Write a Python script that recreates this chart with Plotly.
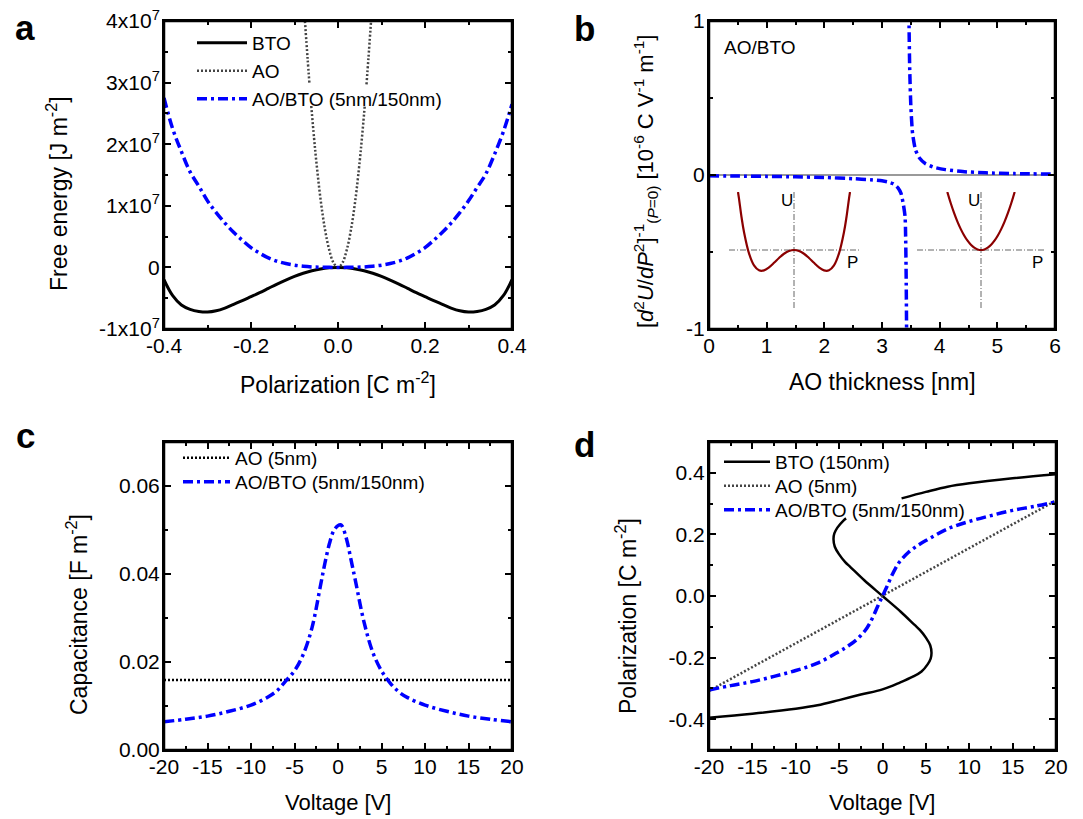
import plotly.graph_objects as go

# ---------------- data ----------------
# (a) free energy vs polarization, energy in units of 1e7 J m^-2
pol_a = [-0.40, -0.38, -0.36, -0.34, -0.32, -0.30, -0.28, -0.26, -0.24, -0.22, -0.20,
         -0.18, -0.16, -0.14, -0.12, -0.10, -0.08, -0.06, -0.04, -0.02, 0.00,
         0.02, 0.04, 0.06, 0.08, 0.10, 0.12, 0.14, 0.16, 0.18, 0.20,
         0.22, 0.24, 0.26, 0.28, 0.30, 0.32, 0.34, 0.36, 0.38, 0.40]
bto_energy = [-0.20, -0.46, -0.61, -0.68, -0.715, -0.725, -0.705, -0.66, -0.60, -0.54, -0.475,
              -0.41, -0.34, -0.27, -0.205, -0.145, -0.095, -0.055, -0.025, -0.007, 0.0,
              -0.007, -0.025, -0.055, -0.095, -0.145, -0.205, -0.27, -0.34, -0.41, -0.475,
              -0.54, -0.60, -0.66, -0.705, -0.725, -0.715, -0.68, -0.61, -0.46, -0.20]
aobto_energy = [2.75, 2.25, 1.88, 1.55, 1.32, 1.08, 0.89, 0.72, 0.57, 0.44, 0.32,
                0.23, 0.155, 0.10, 0.062, 0.036, 0.019, 0.008, 0.003, 0.0005, 0.0,
                0.0005, 0.003, 0.008, 0.019, 0.036, 0.062, 0.10, 0.155, 0.23, 0.32,
                0.44, 0.57, 0.72, 0.89, 1.08, 1.30, 1.52, 1.84, 2.20, 2.65]
# AO parabola (gaps where it passes behind the legend text)
pol_ao = [-0.076, -0.070, -0.0655, None, -0.0615, -0.055, -0.05, -0.04, -0.03, -0.02, -0.01, 0.0,
          0.01, 0.02, 0.03, 0.04, 0.05, 0.055, 0.0615, None, 0.0655, 0.070, 0.076]
ao_energy = [4.0, 3.4, 2.97, None, 2.62, 2.1, 1.73, 1.1, 0.62, 0.28, 0.07, 0.0,
             0.07, 0.28, 0.62, 1.1, 1.73, 2.1, 2.62, None, 2.97, 3.4, 4.0]
tick_a_y = [-1, 0, 1, 2, 3, 4]
tick_a_y_text = ["-1x10<sup>7</sup>", "0", "1x10<sup>7</sup>", "2x10<sup>7</sup>",
                 "3x10<sup>7</sup>", "4x10<sup>7</sup>"]
tick_a_x = [-0.4, -0.2, 0.0, 0.2, 0.4]
tick_a_x_text = ["-0.4", "-0.2", "0.0", "0.2", "0.4"]

# (b) inverse curvature vs AO thickness
thick_b = [0.0, 0.5, 1.0, 1.5, 2.0, 2.5, 2.8, 3.0, 3.1, 3.2, 3.28, 3.33, 3.37, 3.40, 3.41, 3.42, 3.43, None,
           3.465, 3.47, 3.48, 3.50, 3.53, 3.58, 3.65, 3.75, 3.9, 4.1, 4.4, 4.8, 5.3, 6.0]
curv_b = [-0.005, -0.007, -0.009, -0.012, -0.016, -0.024, -0.031, -0.038, -0.045, -0.058, -0.085, -0.12,
          -0.19, -0.27, -0.40, -0.70, -1.2, None,
          1.2, 0.95, 0.70, 0.45, 0.27, 0.165, 0.11, 0.075, 0.05, 0.035, 0.022, 0.014, 0.009, 0.006]
tick_b_x = [0, 1, 2, 3, 4, 5, 6]
tick_b_y = [-1, 0, 1]
# insets of (b): sketch energy landscapes
inset_p_double = [-1.12, -1.1, -1.05, -1.0, -0.9, -0.8, -0.7, -0.6, -0.5, -0.4, -0.3, -0.2, -0.1, 0.0,
                  0.1, 0.2, 0.3, 0.4, 0.5, 0.6, 0.7, 0.8, 0.9, 1.0, 1.05, 1.1, 1.12]
inset_u_double = [1.0, 0.886, 0.569, 0.31, -0.058, -0.265, -0.35, -0.352, -0.299, -0.221, -0.137, -0.065,
                  -0.017, 0.0, -0.017, -0.065, -0.137, -0.221, -0.299, -0.352, -0.35, -0.265, -0.058,
                  0.31, 0.569, 0.886, 1.0]
inset_p_single = [-1.0, -0.9, -0.8, -0.7, -0.6, -0.5, -0.4, -0.3, -0.2, -0.1, 0.0,
                  0.1, 0.2, 0.3, 0.4, 0.5, 0.6, 0.7, 0.8, 0.9, 1.0]
inset_u_single = [1.0, 0.81, 0.64, 0.49, 0.36, 0.25, 0.16, 0.09, 0.04, 0.01, 0.0,
                  0.01, 0.04, 0.09, 0.16, 0.25, 0.36, 0.49, 0.64, 0.81, 1.0]

# (c) capacitance vs voltage
volt_c = [-20, -17.5, -15, -12.5, -10, -8, -7, -6, -5, -4, -3, -2, -1.5, -1, -0.5, 0, 0.3, 0.5,
          1, 1.5, 2, 3, 4, 5, 6, 7, 8, 10, 12.5, 15, 17.5, 20]
cap_aobto = [0.0064, 0.0070, 0.0077, 0.0088, 0.0102, 0.0121, 0.0135, 0.0157, 0.0180, 0.0217, 0.0277,
             0.0375, 0.0425, 0.0468, 0.0498, 0.0510, 0.0512, 0.0508, 0.0478, 0.0432, 0.0385, 0.0290,
             0.0222, 0.0180, 0.0152, 0.0132, 0.0119, 0.0102, 0.0088, 0.0077, 0.0070, 0.0064]
volt_c_ao = [-20, 20]
cap_ao = [0.0159, 0.0159]
tick_c_x = [-20, -15, -10, -5, 0, 5, 10, 15, 20]
tick_c_y = [0.0, 0.02, 0.04, 0.06]
tick_c_y_text = ["0.00", "0.02", "0.04", "0.06"]

# (d) polarization vs voltage
volt_d_bto = [-20, -15, -10, -7.5, -5, -2.5, 0, 2, 3.5, 4.5, 5.2, 5.55, 5.65, 5.5, 5.0, 4.3, 3.7, 2.1,
              0, -2.1, -3.7, -4.3, -5.0, -5.5, -5.65, -5.55, -5.2, -4.5, -4.2, None,
              2.2, 5, 7.5, 10, 15, 20]
pol_d_bto = [-0.395, -0.382, -0.366, -0.355, -0.338, -0.32, -0.303, -0.281, -0.262, -0.245, -0.222,
             -0.203, -0.185, -0.16, -0.135, -0.11, -0.094, -0.051,
             0.0, 0.051, 0.094, 0.11, 0.135, 0.16, 0.185, 0.203, 0.222, 0.245, 0.252, None,
             0.317, 0.338, 0.355, 0.366, 0.382, 0.395]
volt_d_ao = [-20, 20]
pol_d_ao = [-0.308, 0.310]
volt_d = [-20, -17.5, -15, -12.5, -10, -7.5, -5, -4, -3, -2, -1.5, -1, -0.5, 0,
          0.5, 1, 1.5, 2, 3, 4, 5, 7.5, 10, 12.5, 15, 17.5, 20]
pol_d_aobto = [-0.305, -0.291, -0.278, -0.261, -0.242, -0.218, -0.180, -0.163, -0.142, -0.112, -0.090,
               -0.062, -0.030, 0.0, 0.030, 0.062, 0.090, 0.112, 0.142, 0.163, 0.180, 0.218, 0.242,
               0.261, 0.278, 0.291, 0.306]
tick_d_y = [-0.4, -0.2, 0.0, 0.2, 0.4]
tick_d_y_text = ["-0.4", "-0.2", "0.0", "0.2", "0.4"]

# ---------------- styling ----------------
# The page body has an 8 px margin, so the figure is drawn 8 px in from the
# window corner; positions below are given in window pixels and shifted.
OFF = 8
W, H = 1083 - OFF, 819 - OFF
FONT = "Liberation Sans, Arial, sans-serif"
BLUE = "#0000ff"
GRAY = "#444444"
DARKRED = "#8b0000"
DASHDOT = "10px,4px,3px,4px"
DOT = "2px,2px"


def fx(px):
    return (px - OFF) / W


def fy(py):
    return 1 - (py - OFF) / H


# plot areas in window pixels: (left, right, top, bottom)
PA = (164, 512, 21, 329)
PB = (709, 1055, 21, 329)
PC = (164, 512, 442, 750)
PD = (709, 1056, 442, 750)

fig = go.Figure()


def add(x, y, xa, ya, color, width, dash, name=None, legend=None, shape="spline", smooth=1.0):
    fig.add_trace(go.Scatter(
        x=x, y=y, xaxis=xa, yaxis=ya, mode="lines",
        line=dict(color=color, width=width, dash=dash, shape=shape, smoothing=smooth),
        name=name, showlegend=legend is not None, legend=legend if legend else "legend",
        connectgaps=False, hoverinfo="skip"))


# (a)
add(pol_a, bto_energy, "x", "y", "black", 3, "solid", "BTO", "legend")
add(pol_ao, ao_energy, "x", "y", GRAY, 2.5, DOT, "AO", "legend2")
add(pol_a, aobto_energy, "x", "y", BLUE, 3.5, DASHDOT, "AO/BTO (5nm/150nm)", "legend3")
# (b)
add(thick_b, curv_b, "x2", "y2", BLUE, 3.5, DASHDOT, shape="spline", smooth=0.6)
add(inset_p_double, inset_u_double, "x5", "y5", DARKRED, 2.2, "solid")
add(inset_p_single, inset_u_single, "x6", "y6", DARKRED, 2.2, "solid")
# (c)
add(volt_c_ao, cap_ao, "x3", "y3", "black", 2.5, DOT, "AO (5nm)", "legend4", shape="linear")
add(volt_c, cap_aobto, "x3", "y3", BLUE, 3.5, DASHDOT, "AO/BTO (5nm/150nm)", "legend5")
# (d)
add(volt_d_bto, pol_d_bto, "x4", "y4", "black", 2.5, "solid", "BTO (150nm)", "legend6")
add(volt_d_ao, pol_d_ao, "x4", "y4", GRAY, 2.5, DOT, "AO (5nm)", "legend7", shape="linear")
add(volt_d, pol_d_aobto, "x4", "y4", BLUE, 3.5, DASHDOT, "AO/BTO (5nm/150nm)", "legend8")

axis_common = dict(showline=True, linecolor="#000000", linewidth=2, mirror="allticks",
                   ticks="inside", ticklen=7, tickwidth=2, tickcolor="#000000",
                   showgrid=False, zeroline=False, automargin=False, layer="above traces",
                   ticklabeloverflow="allow",
                   tickfont=dict(family=FONT, size=21, color="black"))


def dom(p):
    return [fx(p[0]), fx(p[1])], [fy(p[3]), fy(p[2])]


def minor(dt):
    return dict(dtick=dt, ticks="inside", ticklen=4, tickwidth=2, tickcolor="#000000", showgrid=False)


layout_axes = {}
panels = [
    ("xaxis", "yaxis", PA, [-0.4, 0.4], [-1, 4], tick_a_x, tick_a_x_text, tick_a_y, tick_a_y_text, 0.1, 0.5),
    ("xaxis2", "yaxis2", PB, [0, 6], [-1, 1], tick_b_x, [str(v) for v in tick_b_x],
     tick_b_y, ["-1", "0", "1"], 0.5, 0.5),
    ("xaxis3", "yaxis3", PC, [-20, 20], [0, 0.07], tick_c_x, [str(v) for v in tick_c_x],
     tick_c_y, tick_c_y_text, 2.5, 0.01),
    ("xaxis4", "yaxis4", PD, [-20, 20], [-0.5, 0.5], tick_c_x, [str(v) for v in tick_c_x],
     tick_d_y, tick_d_y_text, 2.5, 0.1),
]
shapes = []
for (xn, yn, box, xr, yr, xt, xtt, yt, ytt, xm, ym) in panels:
    xd, yd = dom(box)
    xid = "x" + xn[5:]
    yid = "y" + yn[5:]
    layout_axes[xn] = dict(axis_common, domain=xd, range=xr, anchor=yid, ticklabelstandoff=-3,
                           tickmode="array", tickvals=xt, ticktext=xtt, minor=minor(xm))
    layout_axes[yn] = dict(axis_common, domain=yd, range=yr, anchor=xid, ticklabelstandoff=-2,
                           tickmode="array", tickvals=yt, ticktext=ytt, minor=minor(ym))
    # frame of the panel
    shapes.append(dict(type="rect", xref="paper", yref="paper",
                       x0=xd[0], x1=xd[1], y0=yd[0], y1=yd[1],
                       line=dict(color="black", width=2.5),
                       fillcolor="rgba(0,0,0,0)", layer="above"))
layout_axes["yaxis2"].update(zeroline=True, zerolinecolor="#9a9a9a", zerolinewidth=2)
fig.update_layout(**layout_axes)

# insets
inset_axis = dict(visible=False, showgrid=False, zeroline=False, fixedrange=True, automargin=False)
fig.update_layout(
    xaxis5=dict(inset_axis, domain=[fx(729), fx(859)], range=[-1.3, 1.3], anchor="y5"),
    yaxis5=dict(inset_axis, domain=[fy(308), fy(192)], range=[-1, 1], anchor="x5"),
    xaxis6=dict(inset_axis, domain=[fx(917), fx(1045)], range=[-1.9, 1.9], anchor="y6"),
    yaxis6=dict(inset_axis, domain=[fy(308), fy(192)], range=[-1, 1], anchor="x6"),
)
for xr_, yr_, xrng in (("x5", "y5", 1.3), ("x6", "y6", 1.9)):
    shapes.append(dict(type="line", xref=xr_, yref=yr_, x0=-xrng, x1=xrng, y0=0, y1=0,
                       line=dict(color="#666666", width=1, dash="6px,2px,1px,2px"), layer="below"))
    shapes.append(dict(type="line", xref=xr_, yref=yr_, x0=0, x1=0, y0=-1, y1=1,
                       line=dict(color="#666666", width=1, dash="6px,2px,1px,2px"), layer="below"))
fig.update_layout(shapes=shapes)


# legends (one per entry, so rows sit exactly where the reference has them)
def legend(x_px, y_px, iw=50):
    return dict(x=fx(x_px), y=fy(y_px), xanchor="left", yanchor="middle",
                bgcolor="rgba(0,0,0,0)", borderwidth=0, itemwidth=iw,
                font=dict(family=FONT, size=19, color="black"))


fig.update_layout(
    legend=legend(192, 43), legend2=legend(192, 71), legend3=legend(192, 99),
    legend4=legend(178, 458, 47), legend5=legend(178, 482, 47),
    legend6=legend(719, 462, 46), legend7=legend(719, 486, 46), legend8=legend(719, 510, 46),
)

ann = []


def text(x_px, y_px, s, size=23, angle=0, bold=False, xanchor="center", yanchor="middle",
         xref="paper", yref="paper", x=None, y=None):
    ann.append(dict(x=fx(x_px) if x is None else x, y=fy(y_px) if y is None else y,
                    xref=xref, yref=yref, text=f"<b>{s}</b>" if bold else s,
                    showarrow=False, textangle=angle, xanchor=xanchor, yanchor=yanchor,
                    font=dict(family=FONT, size=size, color="black")))


# panel letters
text(25, 28, "a", size=35, bold=True)
text(584, 29, "b", size=35, bold=True)
text(25, 435, "c", size=35, bold=True)
text(584, 444, "d", size=35, bold=True)
# axis titles
text(338, 383, "Polarization [C m<sup>-2</sup>]")
text(57, 193, "Free energy [J m<sup>-2</sup>]", angle=-90)
text(882, 382, "AO thickness [nm]")
text(645, 182, "[<i>d</i><sup>2</sup><i>U</i>/<i>dP</i><sup>2</sup>]<sup>-1</sup><sub>(<i>P</i>=0)</sub>"
               " [10<sup>-6</sup> C V<sup>-1</sup> m<sup>-1</sup>]", size=22, angle=-90)
text(338, 802, "Voltage [V]", size=22)
text(77, 615, "Capacitance [F m<sup>-2</sup>]", angle=-90)
text(882, 802, "Voltage [V]", size=22)
text(626, 616, "Polarization [C m<sup>-2</sup>]", angle=-90)
# panel (b) label and inset labels
text(722, 48, "AO/BTO", size=19, xanchor="left")
text(0, 0, "U", size=17, xref="x5", yref="y5", x=-0.14, y=0.86)
text(0, 0, "P", size=17, xref="x5", yref="y5", x=1.16, y=-0.21)
text(0, 0, "U", size=17, xref="x6", yref="y6", x=-0.2, y=0.86)
text(0, 0, "P", size=17, xref="x6", yref="y6", x=1.69, y=-0.21)
fig.update_layout(annotations=ann)

fig.update_layout(template="none", width=W, height=H, margin=dict(l=0, r=0, t=0, b=0, pad=0),
                  paper_bgcolor="white", plot_bgcolor="rgba(0,0,0,0)",
                  font=dict(family=FONT, color="black"))

fig.write_html("out.html")
